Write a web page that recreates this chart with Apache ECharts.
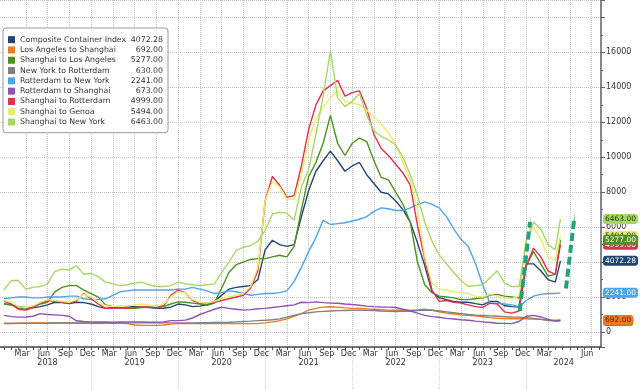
<!DOCTYPE html>
<html><head><meta charset="utf-8">
<script src="https://cdn.jsdelivr.net/npm/echarts@6/dist/echarts.min.js"></script>
<style>html,body{margin:0;padding:0;background:#fff}#c{width:640px;height:390px}</style>
</head><body><div id="c"></div>
<script>
const dates = [
'2018-01-01','2018-02-01','2018-03-01','2018-04-01','2018-05-01','2018-06-01','2018-07-01','2018-08-01','2018-09-01','2018-10-01','2018-11-01','2018-12-01',
'2019-01-01','2019-02-01','2019-03-01','2019-04-01','2019-05-01','2019-06-01','2019-07-01','2019-08-01','2019-09-01','2019-10-01','2019-11-01','2019-12-01',
'2020-01-01','2020-02-01','2020-03-01','2020-04-01','2020-05-01','2020-06-01','2020-07-01','2020-08-01','2020-09-01','2020-10-01','2020-11-01','2020-12-01',
'2021-01-01','2021-02-01','2021-03-01','2021-04-01','2021-05-01','2021-06-01','2021-07-01','2021-08-01','2021-09-01','2021-10-01','2021-11-01','2021-12-01',
'2022-01-01','2022-02-01','2022-03-01','2022-04-01','2022-05-01','2022-06-01','2022-07-01','2022-08-01','2022-09-01','2022-10-01','2022-11-01','2022-12-01',
'2023-01-01','2023-02-01','2023-03-01','2023-04-01','2023-05-01','2023-06-01','2023-07-01','2023-08-01','2023-09-01','2023-10-01','2023-11-01','2023-12-01',
'2024-01-01','2024-02-01','2024-03-01','2024-04-01','2024-05-01','2024-05-23'];

const composite = [1600,1550,1450,1400,1380,1450,1550,1700,1680,1620,1700,1680,
1600,1450,1350,1400,1380,1420,1460,1420,1400,1350,1360,1420,
1600,1550,1450,1480,1550,1750,2100,2450,2550,2600,2650,3000,
4700,5250,5000,4900,5000,6600,8100,9200,9800,10350,9800,9200,
9500,9700,9000,8500,8000,7900,7500,7000,6300,5100,3800,2300,
1950,1850,1750,1700,1700,1620,1550,1750,1750,1500,1450,1430,
3900,3900,3500,3000,2850,4072.28];
const laToShanghai = [500,500,500,500,500,520,520,520,520,520,520,510,
500,500,500,500,500,480,400,380,380,380,400,450,
480,480,480,480,480,480,480,480,480,480,480,480,
520,580,650,750,900,1050,1250,1350,1420,1440,1420,1380,
1350,1350,1320,1300,1270,1250,1240,1240,1250,1260,1300,1250,
1150,1080,1030,980,950,920,870,820,780,770,760,760,
760,740,720,690,680,692];
const shanghaiToLA = [1600,1550,1350,1300,1450,1600,1700,2300,2550,2650,2650,2400,
2200,2000,1550,1450,1400,1350,1350,1400,1430,1400,1450,1600,
1720,1700,1650,1600,1530,1650,2500,3400,3850,4000,4150,4200,
4200,4300,4390,4300,4900,7000,8900,9700,10800,12400,10800,10100,
10800,11100,10900,9800,8850,8700,8000,7300,6300,4000,2700,2250,
2050,2000,1950,1850,1850,1900,1950,2100,2150,2050,2000,1950,
3800,4600,3900,3200,3300,5277];
const nyToRotterdam = [480,480,490,500,500,500,500,510,510,510,510,510,
500,500,510,520,520,520,520,520,520,520,520,520,
520,520,520,530,530,540,550,560,580,600,620,650,
670,700,750,850,950,1050,1100,1150,1180,1200,1220,1230,
1240,1240,1240,1230,1200,1180,1170,1180,1200,1230,1250,1240,
1200,1150,1100,1050,1000,960,940,920,900,880,860,850,
820,780,720,660,640,630];
const rotterdamToNY = [1900,1950,2000,2000,1950,1950,2000,2000,2000,2050,2050,1900,
1850,1850,1900,2100,2300,2350,2400,2400,2400,2400,2400,2400,
2450,2450,2550,2450,2350,2200,2250,2350,2300,2200,2100,2150,
2200,2200,2250,2350,2900,3700,4600,5400,6400,6150,6200,6250,
6350,6450,6600,6900,7100,7050,6950,6950,7100,7300,7450,7300,
7100,6600,5900,5300,4900,3900,2700,1650,1650,1600,1550,1450,
1800,2050,2150,2200,2200,2241];
const rotterdamToShanghai = [950,880,850,860,900,1050,1000,980,950,900,640,600,
580,570,580,560,570,580,580,570,560,560,570,650,
650,680,800,1000,1150,1300,1420,1350,1300,1250,1280,1330,
1350,1400,1450,1500,1550,1700,1680,1720,1680,1650,1640,1600,
1570,1530,1480,1450,1430,1420,1400,1300,1200,1080,950,880,
840,780,740,700,670,620,580,540,500,490,480,600,
900,950,860,720,620,673];
const shanghaiToRotterdam = [1750,1600,1300,1250,1400,1650,1800,1750,1700,1650,1800,2200,
1900,1600,1350,1350,1380,1350,1400,1450,1420,1380,1500,2100,
2400,2250,1800,1650,1650,1700,1800,1900,2000,2100,2500,3500,
7500,8900,8400,7700,7800,9500,11600,13000,13800,14100,14400,13500,
13700,13800,12800,11300,10500,10100,9600,9100,8400,6100,4200,2400,
1750,1800,1700,1650,1550,1450,1400,1650,1600,1150,1080,1200,
3800,4800,4300,3500,3300,4999];
const shanghaiToGenoa = [1800,1700,1450,1400,1500,1700,1850,1800,1750,1700,1850,2150,
2000,1700,1500,1450,1500,1500,1550,1600,1550,1500,1600,2000,
2300,2250,1850,1700,1650,1750,1900,2000,2100,2200,2600,3700,
7500,8600,8300,7600,7600,9000,11000,12200,12900,13400,13800,13200,
13100,13000,12700,12300,11900,11400,10700,9700,8700,7000,4300,2800,
2450,2400,2300,2250,2200,2050,2000,2150,2050,1950,1900,2050,
5300,6000,5300,4300,4100,5494];
const shanghaiToNY = [2400,2950,2950,2450,2550,2600,2750,3450,3600,3550,3800,3300,
3350,3150,2850,2750,2650,2700,2800,2850,2700,2600,2600,2650,
2850,2750,2700,2650,2700,2750,3400,4000,4650,4850,4950,5200,
5800,6750,6850,6800,6400,8300,9300,11300,13500,16100,13400,12900,
13200,13650,12400,11500,11200,11000,10700,10000,9000,7800,6300,5200,
4400,3900,3400,2950,2600,2650,2700,3100,3500,2800,2600,2600,
5200,6300,5900,5000,4700,6463];

const seriesNames = ['Composite Container Index','Los Angeles to Shanghai','Shanghai to Los Angeles','New York to Rotterdam','Rotterdam to New York','Rotterdam to Shanghai','Shanghai to Rotterdam','Shanghai to Genoa','Shanghai to New York'];
const seriesValues = [composite, laToShanghai, shanghaiToLA, nyToRotterdam, rotterdamToNY, rotterdamToShanghai, shanghaiToRotterdam, shanghaiToGenoa, shanghaiToNY];
const seriesColors = ['#23466e','#ec7a22','#4f8f22','#7f7f7f','#4ea5e6','#8c53b3','#e2304f','#ecec6c','#a9d766'];
const labelTextColors = ['#ffffff','#5a1800','#ffffff','#ffffff','#ffffff','#ffffff','#ffffff','#333333','#1c3300'];
// stacking order of the value tags on the right axis (last on top)
const tagOrder = [3,5,1,4,0,6,7,2,8];

const xTickLabels = ['2018-03','2018-06','2018-09','2018-12','2019-03','2019-06','2019-09','2019-12','2020-03','2020-06','2020-09','2020-12','2021-03','2021-06','2021-09','2021-12','2022-03','2022-06','2022-09','2022-12','2023-03','2023-06','2023-09','2023-12','2024-03','2024-06'];
const yearLabels = ['2018','2019','2020','2021','2022','2023','2024'];
const yTickLabels = [0,2000,4000,6000,8000,10000,12000,14000,16000];

// annotation arrows (date, value)
const arrowFrom = [['2023-12-04',1200],['2024-06-15',2485]];
const arrowTo   = [['2024-01-17',6300],['2024-07-21',6586]];

const MON = ['Jan','Feb','Mar','Apr','May','Jun','Jul','Aug','Sep','Oct','Nov','Dec'];
function toM(s){ const p=s.split('-').map(Number); const y=p[0], mo=p[1], d=p[2]||1; const dim=new Date(y,mo,0).getDate(); return (y-2018)*12+(mo-1)+(d-1)/dim; }
const xMin = -0.55, xMax = 82.3;
const monthPos = xTickLabels.map(s=>toM(s+'-01')+0.5);
const yearPos = yearLabels.map(y=>{ const a=toM(y+'-01-01'); return Math.min((a+a+12)/2,(a+xMax)/2); });
const font = 'DejaVu Sans';
function nearest(arr,v){ let bi=0,bd=1e9; arr.forEach((p,i)=>{const d=Math.abs(p-v); if(d<bd){bd=d;bi=i;}}); return bi; }

const series = seriesNames.map((n,i)=>({
  name:n, type:'line', showSymbol:false, symbol:'none',
  data: dates.map((d,j)=>[toM(d), seriesValues[i][j]]),
  lineStyle:{width:1.4,color:seriesColors[i]}, itemStyle:{color:seriesColors[i]},
  animation:false, z: 3
}));
series.push({
  type:'line', data:[], xAxisIndex:0, yAxisIndex:0, z:5, animation:false,
  markLine:{ silent:true, animation:false,
    data: arrowFrom.map((a,i)=>[{coord:[toM(a[0]),a[1]]},{coord:[toM(arrowTo[i][0]),arrowTo[i][1]]}]),
    lineStyle:{color:'#22a37c', width:4, type:[8,4], opacity:1}, label:{show:false},
    symbol:['none','triangle'], symbolSize:[1,13]
  }
});
series.push({
  type:'line', data:[], xAxisIndex:0, yAxisIndex:0, z:6, animation:false,
  markLine:{ silent:true, animation:false, symbol:['none','none'],
    data: tagOrder.map(i=>{ const v=seriesValues[i][seriesValues[i].length-1]; return {
      yAxis:v, lineStyle:{color:'rgba(0,0,0,0)',width:0},
      label:{show:true, position:'end', distance:2, formatter:()=>v.toFixed(2),
        backgroundColor:seriesColors[i], color:labelTextColors[i], fontFamily:font, fontSize:7.5,
        padding:[1,2,1,2], borderRadius:3}
    };})
  }
});

const chart = echarts.init(document.getElementById('c'), null, {renderer:'canvas'});
chart.setOption({
  animation:false,
  backgroundColor:'#ffffff',
  grid:{left:0,right:39,top:0,bottom:43,containLabel:false},
  legend:{
    data:seriesNames, orient:'vertical', left:3, top:28, selectedMode:false,
    icon:'rect', itemWidth:7, itemHeight:7, itemGap:1, padding:[7,5,6,5],
    backgroundColor:'#fff', borderColor:'#9a9a9a', borderWidth:1, borderRadius:3,
    formatter:(name)=>{ const i=seriesNames.indexOf(name); const v=seriesValues[i][seriesValues[i].length-1]; return '{n|'+name+'}{v|'+v.toFixed(2)+'}'; },
    textStyle:{fontFamily:font,fontSize:7.8,color:'#333',lineHeight:9.3,
      rich:{n:{width:111,fontFamily:font,fontSize:7.8,color:'#333',lineHeight:9.3},
            v:{width:32,align:'right',fontFamily:font,fontSize:7.8,color:'#333',lineHeight:9.3}}}
  },
  xAxis:[
    {type:'value', min:xMin, max:xMax, position:'bottom',
     axisLine:{show:true,onZero:false,lineStyle:{color:'#4a4a4a',width:1.5}},
     axisTick:{show:true,customValues:Array.from({length:83},(_,k)=>k),length:3,lineStyle:{color:'#4a4a4a'}},
     axisLabel:{customValues:monthPos, margin:3, fontFamily:font, fontSize:8, color:'#333',
       formatter:(v)=>{ const i=nearest(monthPos,v); const m=MON[Number(xTickLabels[i].split('-')[1])-1]; return i===xTickLabels.length-1 ? '{s|'+m+'}' : m; },
       rich:{s:{padding:[0,0,0,42],fontFamily:font,fontSize:8,color:'#333'}}},
     splitLine:{show:false}},
    {type:'value', min:xMin, max:xMax, position:'top',
     axisLine:{show:false,onZero:false}, axisLabel:{show:false},
     axisTick:{show:false,customValues:Array.from({length:27},(_,k)=>3+3*k)},
     splitLine:{show:true,lineStyle:{type:'dotted',color:'#c4c4c4',width:1}}},
    {type:'value', min:xMin, max:xMax, position:'bottom', offset:9,
     axisLine:{show:false,onZero:false},
     axisTick:{show:true,customValues:[12,24,36,48,60,72],length:40,lineStyle:{color:'#d4d4d4',type:'dotted'}},
     axisLabel:{customValues:yearPos, margin:3, fontFamily:font, fontSize:8, color:'#333',
       formatter:(v)=>yearLabels[nearest(yearPos,v)]},
     splitLine:{show:false}}
  ],
  yAxis:{type:'value', position:'right', min:-860, max:19000, splitNumber:10,
    axisLine:{show:true,onZero:false,lineStyle:{color:'#56626e',width:1.5}},
    axisTick:{show:true,length:4,lineStyle:{color:'#56626e'}},
    minorTick:{show:true,splitNumber:2,length:2,lineStyle:{color:'#56626e'}},
    axisLabel:{customValues:yTickLabels, margin:5, fontFamily:font, fontSize:8, color:'#333',
      formatter:(v)=>String(v)},
    splitLine:{show:true,lineStyle:{type:'dotted',color:'#c4c4c4',width:1}}},
  series: series
});
</script>
</body></html>
